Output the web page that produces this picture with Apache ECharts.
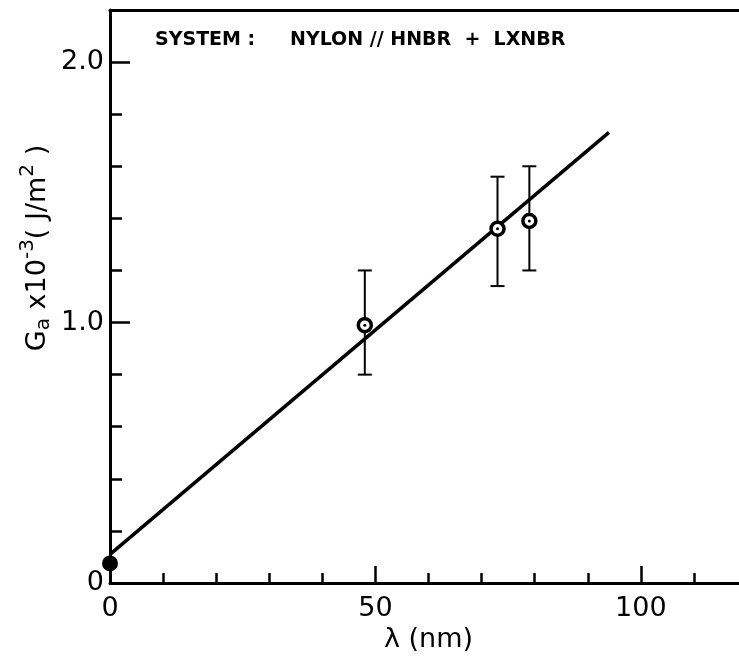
<!DOCTYPE html>
<html>
<head>
<meta charset="utf-8">
<script src="https://cdn.jsdelivr.net/npm/echarts@6/dist/echarts.min.js"></script>
<style>
  html, body { margin: 0; padding: 0; background: #fff; }
  #chart { width: 739px; height: 662px; }
</style>
</head>
<body>
<div id="chart"></div>
<script>
// measured points: lambda (nm), Ga x 10^-3 (J/m^2), error bar low / high
const lambdaNm = [48, 73, 79];
const gaValues = [0.99, 1.36, 1.39];
const errLow = [0.80, 1.14, 1.20];
const errHigh = [1.20, 1.56, 1.60];

// intercept point at lambda = 0
const originPoint = [0, 0.075];

// fitted straight line, its two ends
const fitLambda = [0, 94];
const fitGa = [0.11, 1.73];

const xTickLabels = [0, 50, 100];
const yTickLabels = ['0', '1.0', '2.0'];

const fontFam = 'DejaVu Sans';

let myChart = echarts.init(document.getElementById('chart'));

const points = lambdaNm.map((x, i) => [x, gaValues[i]]);
const errData = lambdaNm.map((x, i) => [x, errLow[i], errHigh[i]]);
const fitData = fitLambda.map((x, i) => [x, fitGa[i]]);

const axisLineStyle = { color: '#000', width: 3 };

myChart.setOption({
  animation: false,
  backgroundColor: '#fff',
  grid: {
    top: 10,
    left: 110,
    width: 637,
    bottom: 79,
    outerBoundsMode: 'none'
  },
  xAxis: [
    {
      type: 'value',
      min: 0,
      max: 120,
      interval: 10,
      name: 'λ (nm)',
      nameLocation: 'middle',
      nameGap: 40,
      nameTextStyle: { fontSize: 27, fontFamily: fontFam, color: '#000' },
      axisLine: { lineStyle: axisLineStyle },
      axisTick: { inside: true, length: 10, lineStyle: { color: '#000', width: 2.5 } },
      axisLabel: {
        margin: 12,
        fontSize: 27,
        fontFamily: fontFam,
        color: '#000',
        formatter: function (v) {
          return xTickLabels.indexOf(v) >= 0 ? String(v) : '';
        }
      },
      splitLine: { show: false }
    },
    {
      type: 'value',
      position: 'bottom',
      min: 0,
      max: 120,
      interval: 50,
      axisLine: { show: false },
      axisTick: { inside: true, length: 17, lineStyle: { color: '#000', width: 2.5 } },
      axisLabel: { show: false },
      splitLine: { show: false }
    },
    {
      type: 'value',
      position: 'top',
      min: 0,
      max: 120,
      axisLine: { lineStyle: axisLineStyle },
      axisTick: { show: false },
      axisLabel: { show: false },
      splitLine: { show: false }
    }
  ],
  yAxis: [
    {
      type: 'value',
      min: 0,
      max: 2.2,
      interval: 0.2,
      axisLine: { lineStyle: axisLineStyle },
      axisTick: { inside: true, length: 12, lineStyle: { color: '#000', width: 2.5 } },
      axisLabel: {
        margin: 6,
        fontSize: 27,
        fontFamily: fontFam,
        color: '#000',
        formatter: function (v) {
          const k = Math.round(v * 10);
          if (k === 0) return yTickLabels[0];
          if (k === 10) return yTickLabels[1];
          if (k === 20) return yTickLabels[2];
          return '';
        }
      },
      splitLine: { show: false }
    },
    {
      type: 'value',
      position: 'left',
      min: 0,
      max: 2.2,
      interval: 1,
      axisLine: { show: false },
      axisTick: { inside: true, length: 20, lineStyle: { color: '#000', width: 2.5 } },
      axisLabel: { show: false },
      splitLine: { show: false }
    }
  ],
  graphic: [
    {
      type: 'text',
      left: 155,
      top: 31,
      style: {
        text: 'SYSTEM :',
        font: 'bold 19px "DejaVu Sans"',
        fill: '#000'
      }
    },
    {
      type: 'text',
      left: 290,
      top: 31,
      style: {
        text: 'NYLON // HNBR  +  LXNBR',
        font: 'bold 19px "DejaVu Sans"',
        fill: '#000'
      }
    },
    {
      type: 'text',
      x: 38,
      y: 248,
      rotation: Math.PI / 2,
      style: {
        text: '{n|G}{sub|a}{n| x10}{sup|-3}{n|( J/m}{sup|2}{n| )}',
        align: 'center',
        verticalAlign: 'middle',
        fill: '#000',
        rich: {
          n: { fontSize: 27, fontFamily: fontFam, fill: '#000', lineHeight: 40, verticalAlign: 'middle' },
          sub: { fontSize: 20, fontFamily: fontFam, fill: '#000', lineHeight: 40, verticalAlign: 'bottom', padding: [0, 0, 4, 0] },
          sup: { fontSize: 20, fontFamily: fontFam, fill: '#000', lineHeight: 40, verticalAlign: 'top' }
        }
      }
    }
  ],
  series: [
    {
      type: 'line',
      data: fitData,
      symbol: 'none',
      lineStyle: { color: '#000', width: 3.5 },
      z: 3
    },
    {
      type: 'custom',
      data: errData,
      renderItem: function (params, api) {
        const top = api.coord([api.value(0), api.value(2)]);
        const bot = api.coord([api.value(0), api.value(1)]);
        const half = 7;
        const st = { stroke: '#000', lineWidth: 2 };
        return {
          type: 'group',
          children: [
            { type: 'line', shape: { x1: top[0], y1: top[1], x2: bot[0], y2: bot[1] }, style: st },
            { type: 'line', shape: { x1: top[0] - half, y1: top[1], x2: top[0] + half, y2: top[1] }, style: st },
            { type: 'line', shape: { x1: bot[0] - half, y1: bot[1], x2: bot[0] + half, y2: bot[1] }, style: st }
          ]
        };
      },
      z: 4
    },
    {
      type: 'scatter',
      data: points,
      symbol: 'circle',
      symbolSize: 13,
      itemStyle: { color: '#fff', borderColor: '#000', borderWidth: 3.5, opacity: 1 },
      z: 5
    },
    {
      type: 'scatter',
      data: points,
      symbol: 'circle',
      symbolSize: 3,
      itemStyle: { color: '#000', opacity: 1 },
      z: 6
    },
    {
      type: 'scatter',
      data: [originPoint],
      symbol: 'circle',
      symbolSize: 16,
      itemStyle: { color: '#000', opacity: 1 },
      z: 6
    }
  ]
});
window.addEventListener('resize', myChart.resize);
</script>
</body>
</html>
